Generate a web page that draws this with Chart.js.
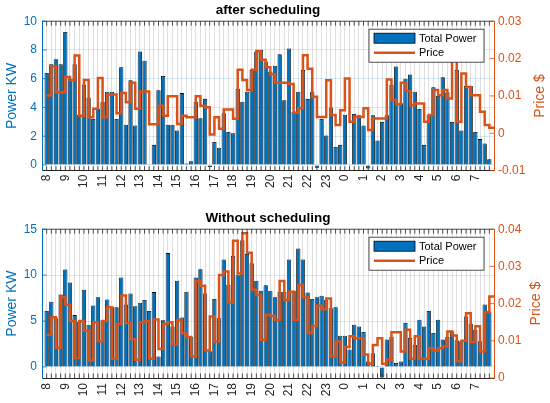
<!DOCTYPE html>
<html>
<head>
<meta charset="utf-8">
<title>Power and price, after and without scheduling</title>
<script src="https://cdn.jsdelivr.net/npm/chart.js@4.4.1/dist/chart.umd.min.js"></script>
<style>
  html, body { margin: 0; padding: 0; background: #fff; }
  #wrap { width: 550px; height: 403px; }
  canvas { display: block; }
</style>
</head>
<body>
<div id="wrap">
  <canvas id="after-chart" width="550" height="200"></canvas>
  <canvas id="before-chart" width="550" height="203"></canvas>
</div>
<script>
// hour labels, one every 4 quarter-hour slots starting at 8:00
const hourLabels = ['8', '9', '10', '11', '12', '13', '14', '15', '16', '17', '18', '19',
                    '20', '21', '22', '23', '0', '1', '2', '3', '4', '5', '6', '7'];

// total power (KW) per 15 min slot, after scheduling
const powerAfter = [
  6.4, 7.0, 7.35, 7.0,   9.25, 6.0, 7.0, 3.5,   5.6, 4.7, 3.2, 3.9,   4.4, 5.1, 5.1, 3.2,
  6.8, 2.8, 5.9, 2.75,   7.9, 7.25, 0.05, 1.4,  5.2, 6.2, 2.8, 2.8,   2.4, 5.0, 0.1, 0.25,
  4.4, 3.25, 4.6, -0.15, 1.6, 1.2, 3.6, 2.3,    2.2, 5.3, 4.4, 5.1,   6.6, 7.9, 8.0, 7.2,
  6.5, 6.9, 7.7, 4.5,    8.1, 3.7, 5.1, 6.6,    4.6, 5.1, -0.2, 3.2,  2.05, 4.0, 1.25, 1.4,
  3.5, -0.05, 3.55, 3.45, 2.75, -0.25, 3.45, 1.7, 3.0, 3.45, 5.6, 6.85, 4.3, 6.0, 6.3, 5.1,
  3.9, 1.4, 3.45, 5.4,   4.8, 6.1, 5.05, 3.0,   6.6, 2.4, 5.5, 5.5,   2.3, 1.8, 1.5, 0.4
];
// price ($) per slot, after scheduling
const priceAfter = [
  0.0101, 0.0179, 0.0110, 0.0110, 0.0151, 0.0143, 0.0208, 0.0047,
  0.0143, 0.0043, 0.0066, 0.0148, 0.0043, 0.0104, 0.0104, 0.0054,
  0.0108, 0.0083, 0.0135, 0.0066, 0.0112, 0.0112, 0.0024, 0.0024,
  0.0074, 0.0047, 0.0099, 0.0099, 0.0025, 0.0047, 0.0043, 0.0043,
  0.0099, 0.0074, 0.0070, -0.0003, 0.0043, 0.0012, 0.0064, 0.0064,
  0.0039, 0.0170, 0.0143, 0.0116, 0.0170, 0.0220, 0.0197, 0.0177,
  0.0158, 0.0135, 0.0135, 0.0135, 0.0132, 0.0055, 0.0067, 0.0209,
  0.0173, 0.0098, 0.0044, 0.0044, 0.0142, 0.0049, 0.0022, 0.0062,
  0.0147, 0.0031, 0.0044, 0.0044, 0.0067, 0.0009, 0.0040, 0.0040,
  0.0040, 0.0144, 0.0089, 0.0078, 0.0135, 0.0113, 0.0075, 0.0080,
  0.0080, 0.0031, 0.0049, 0.0116, 0.0102, 0.0116, 0.0093, 0.0250,
  0.0031, 0.0160, 0.0124, 0.0102, 0.0102, 0.0058, 0.0022, 0.0015
];

// total power (KW) per slot, without scheduling
const powerBefore = [
  6.1, 7.1, 5.3, 7.9, 10.6, 9.2, 5.65, 4.9, 8.4, 4.6, 6.7, 7.6,
  5.1, 7.35, 6.5, 6.5, 9.75, 6.8, 8.0, 6.6, 7.0, 7.3, 6.1, 8.15,
  1.15, 5.1, 12.4, 4.4, 9.4, 5.4, 8.2, 3.3, 9.75, 10.65, 8.0, 1.7,
  7.4, 5.3, 11.7, 8.95, 12.1, 10.0, 13.8, 12.3, 11.3, 9.4, 8.3, 8.9,
  8.3, 7.6, 8.2, 8.2, 11.7, 8.3, 12.9, 11.7, 8.1, 7.4, 7.6, 7.75,
  7.3, 6.4, 6.5, 3.4, 3.4, 1.9, 4.6, 4.4, 3.8, 0.6, 1.5, 0.1,
  -1.15, 3.0, 3.3, 0.45, 0.6, 4.8, 3.15, 2.4, 5.15, 4.4, 6.1, 3.7,
  5.15, 3.0, 3.3, 3.9, 2.9, 2.8, 5.5, 4.7, 4.05, 2.8, 6.8, 6.05
];
// price ($) per slot, without scheduling
const priceBefore = [
  0.0116, 0.0163, 0.0081, 0.0217, 0.0197, 0.0153, 0.0054, 0.0153,
  0.0127, 0.0047, 0.0150, 0.0099, 0.0153, 0.0190, 0.0052, 0.0145,
  0.0222, 0.0148, 0.0104, 0.0049, 0.0150, 0.0153, 0.0052, 0.0157,
  0.0078, 0.0145, 0.0150, 0.0090, 0.0156, 0.0120, 0.0110, 0.0058,
  0.0260, 0.0248, 0.0074, 0.0165, 0.0098, 0.0277, 0.0286, 0.0203,
  0.0369, 0.0281, 0.0389, 0.0337, 0.0237, 0.0223, 0.0103, 0.0170,
  0.0167, 0.0156, 0.0261, 0.0210, 0.0232, 0.0156, 0.0250, 0.0217,
  0.0121, 0.0140, 0.0194, 0.0185, 0.0214, 0.0058, 0.0098, 0.0042,
  0.0083, 0.0112, 0.0107, 0.0107, 0.0063, 0.0038, 0.0089, 0.0107,
  0.0038, 0.0049, 0.0123, 0.0123, 0.0071, 0.0130, 0.0052, 0.0112,
  0.0052, 0.0052, 0.0080, 0.0074, 0.0080, 0.0085, 0.0125, 0.0114,
  0.0045, 0.0100, 0.0174, 0.0097, 0.0139, 0.0071, 0.0177, 0.0219
];

// axis ticks
const powerTicksAfter = [0, 2, 4, 6, 8, 10];
const priceTicksAfter = [-0.01, 0, 0.01, 0.02, 0.03];
const powerTicksBefore = [0, 5, 10, 15];
const priceTicksBefore = [0, 0.01, 0.02, 0.03, 0.04];

const blue = '#0072BD';
const orange = '#D95319';
const axisGray = '#262626';
const fontFamily = '"Liberation Sans", Arial, Helvetica, sans-serif';

//turns a series into {x, y} points sitting on slots 1..n
function toPoints(arr) {
    return arr.map((v, i) => ({ x: i + 1, y: v }));
}

//stairs need one extra point so the last step runs to the right edge
function toStairs(arr) {
    const pts = toPoints(arr);
    pts.push({ x: arr.length + 1, y: arr[arr.length - 1] });
    return pts;
}

//legend box in the top right corner of the plot area
function drawLegend(chart) {
    const { ctx, chartArea: a } = chart;
    const w = 115, h = 33;
    const left = a.right - 10 - w;
    const top = a.top + 8;
    const bars = chart.data.datasets[1];
    const line = chart.data.datasets[0];
    ctx.save();
    ctx.fillStyle = '#fff';
    ctx.fillRect(left, top, w, h);
    ctx.strokeStyle = axisGray;
    ctx.lineWidth = 0.8;
    ctx.strokeRect(left, top, w, h);
    ctx.fillStyle = bars.backgroundColor;
    ctx.fillRect(left + 5, top + 4, 41, 10);
    ctx.strokeStyle = '#000';
    ctx.strokeRect(left + 5, top + 4, 41, 10);
    ctx.strokeStyle = line.borderColor;
    ctx.lineWidth = 2.5;
    ctx.beginPath();
    ctx.moveTo(left + 5, top + 23.6);
    ctx.lineTo(left + 46, top + 23.6);
    ctx.stroke();
    ctx.fillStyle = '#000';
    ctx.font = '11px ' + fontFamily;
    ctx.textAlign = 'left';
    ctx.textBaseline = 'middle';
    ctx.fillText(bars.label, left + 50, top + 9.5);
    ctx.fillText(line.label, left + 50, top + 23.6);
    ctx.restore();
}

//matlab style frame: top edge, ticks pointing inward, right label, legend
const matlabFrame = {
    id: 'matlabFrame',
    afterDraw(chart, args, opts) {
        const { ctx, chartArea: a, scales } = chart;
        const tickLen = 4.5;
        ctx.save();
        ctx.strokeStyle = axisGray;
        ctx.lineWidth = 0.8;
        ctx.beginPath();
        ctx.moveTo(a.left, a.top);
        ctx.lineTo(a.right, a.top);
        scales.x.ticks.forEach(t => {
            if (t.value < 1 || t.value > 96) return;
            const px = scales.x.getPixelForValue(t.value);
            ctx.moveTo(px, a.bottom);
            ctx.lineTo(px, a.bottom - tickLen);
            ctx.moveTo(px, a.top);
            ctx.lineTo(px, a.top + tickLen);
        });
        ctx.stroke();
        [[scales.y, a.left, 1, blue], [scales.y1, a.right, -1, orange]].forEach(([s, x0, dir, col]) => {
            ctx.strokeStyle = col;
            ctx.beginPath();
            s.ticks.forEach(t => {
                const py = s.getPixelForValue(t.value);
                ctx.moveTo(x0, py);
                ctx.lineTo(x0 + dir * tickLen, py);
            });
            ctx.stroke();
        });
        ctx.fillStyle = orange;
        ctx.font = '14px ' + fontFamily;
        ctx.textAlign = 'center';
        ctx.textBaseline = 'middle';
        ctx.translate(opts.priceTitleX, (a.top + a.bottom) / 2);
        ctx.rotate(-Math.PI / 2);
        ctx.fillText('Price $', 0, 0);
        ctx.restore();
        drawLegend(chart);
    }
};

//builds one subplot: bars for power on the left axis, stairs for price on the right
function createPlot(canvas, cfg) {
    return new Chart(canvas.getContext('2d'), {
        type: 'bar',
        data: {
            datasets: [
                {
                    type: 'line',
                    label: 'Price',
                    data: toStairs(cfg.price),
                    yAxisID: 'y1',
                    stepped: true,
                    borderColor: orange,
                    borderWidth: 2.5,
                    pointRadius: 0,
                    fill: false,
                    order: 0
                },
                {
                    type: 'bar',
                    label: 'Total Power',
                    data: toPoints(cfg.power),
                    yAxisID: 'y',
                    backgroundColor: blue,
                    borderColor: '#000',
                    borderWidth: 0.8,
                    barPercentage: 0.92,
                    categoryPercentage: 1,
                    order: 1
                }
            ]
        },
        options: {
            responsive: false,
            animation: false,
            layout: { padding: { top: cfg.padTop, left: 0, right: 0, bottom: 0 } },
            plugins: {
                legend: { display: false },
                tooltip: { enabled: false },
                title: {
                    display: true,
                    text: cfg.title,
                    fullSize: false,
                    color: '#000',
                    font: { family: fontFamily, size: 13.5, weight: 'bold' },
                    padding: { top: 2, bottom: 3 }
                },
                matlabFrame: { priceTitleX: cfg.priceTitleX }
            },
            scales: {
                x: {
                    type: 'linear',
                    min: 0,
                    max: cfg.power.length + 1,
                    offset: false,
                    afterFit: s => { s.height = cfg.xAxisHeight; },
                    ticks: {
                        stepSize: 1,
                        autoSkip: false,
                        minRotation: 90,
                        maxRotation: 90,
                        padding: cfg.xLabelPad,
                        color: axisGray,
                        font: { family: fontFamily, size: 12 },
                        callback: v => (v >= 1 && v <= 96 && (v - 1) % 4 === 0) ? hourLabels[(v - 1) / 4] : ''
                    },
                    grid: { color: 'rgba(38,38,38,0.14)', drawTicks: false, offset: false },
                    border: { color: axisGray, width: 1 }
                },
                y: {
                    position: 'left',
                    min: cfg.powerMin,
                    max: cfg.powerMax,
                    afterBuildTicks: s => { s.ticks = cfg.powerTicks.map(v => ({ value: v })); },
                    afterFit: s => { s.width = 42; },
                    ticks: { color: blue, padding: 5, font: { family: fontFamily, size: 12 } },
                    grid: { color: 'rgba(0,114,189,0.15)', drawTicks: false },
                    border: { color: blue, width: 1 },
                    title: {
                        display: true,
                        text: 'Power KW',
                        color: blue,
                        font: { family: fontFamily, size: 14 },
                        padding: { top: 4, bottom: 0 }
                    }
                },
                y1: {
                    position: 'right',
                    min: cfg.priceMin,
                    max: cfg.priceMax,
                    afterBuildTicks: s => { s.ticks = cfg.priceTicks.map(v => ({ value: v })); },
                    afterFit: s => { s.width = 56; },
                    ticks: {
                        color: orange,
                        padding: 4,
                        font: { family: fontFamily, size: 12 },
                        callback: v => String(parseFloat(v.toFixed(2)))
                    },
                    grid: { display: false, drawTicks: false },
                    border: { color: orange, width: 1 }
                }
            }
        },
        plugins: [matlabFrame]
    });
}

createPlot(document.getElementById('after-chart'), {
    title: 'after scheduling',
    power: powerAfter,
    price: priceAfter,
    powerTicks: powerTicksAfter,
    priceTicks: priceTicksAfter,
    powerMin: -0.4, powerMax: 10,
    priceMin: -0.01, priceMax: 0.03,
    padTop: 0,
    xAxisHeight: 29.3,
    xLabelPad: 4,
    priceTitleX: 540
});

createPlot(document.getElementById('before-chart'), {
    title: 'Without scheduling',
    power: powerBefore,
    price: priceBefore,
    powerTicks: powerTicksBefore,
    priceTicks: priceTicksBefore,
    powerMin: -1.2, powerMax: 15,
    priceMin: 0, priceMax: 0.04,
    padTop: 8,
    xAxisHeight: 25,
    xLabelPad: 5,
    priceTitleX: 536
});
</script>
</body>
</html>
